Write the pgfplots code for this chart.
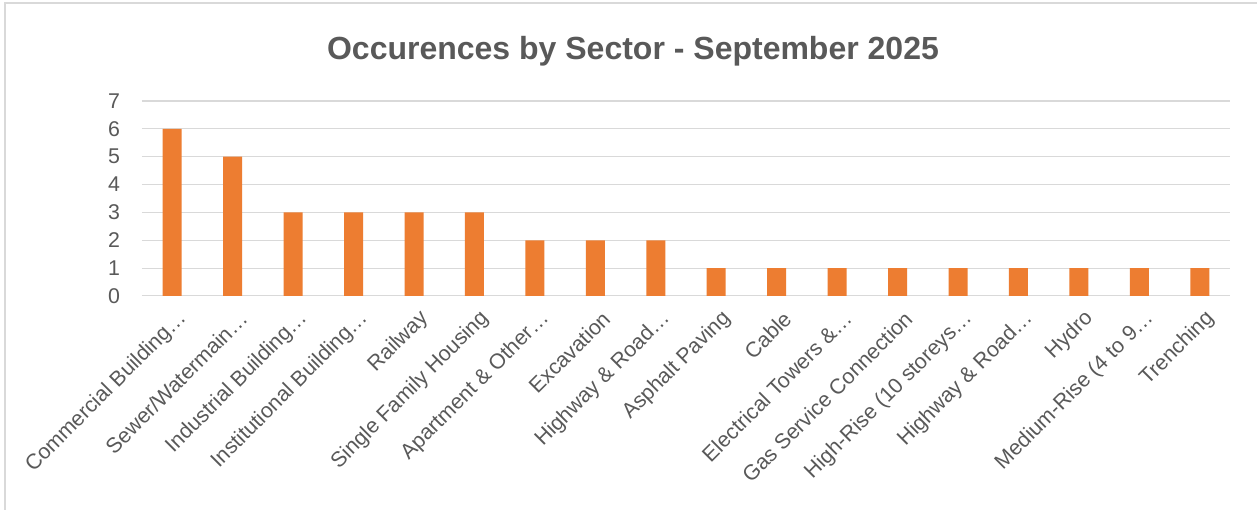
\documentclass[border=0pt]{standalone}
\usepackage{fontspec}
\setmainfont{Liberation Sans}
\usepackage{pgfplots}
\pgfplotsset{compat=1.18}
\definecolor{barorange}{HTML}{ED7D31}
\definecolor{gridgray}{HTML}{D9D9D9}
\definecolor{textgray}{HTML}{595959}
\begin{document}
\begin{tikzpicture}[x=1pt,y=1pt]
\useasboundingbox (0,0) rectangle (942.75,382.5);
\fill[white] (0,0) rectangle (942.75,382.5);
\draw[gridgray, line width=1pt] (3.75,-5) rectangle (950,380.25);
\node[anchor=base, font=\fontsize{24}{28}\selectfont\bfseries, text=textgray] at (474.75,337.5) {Occurences by Sector - September 2025};
\begin{axis}[
  at={(106.5pt,160.5pt)}, anchor=south west,
  scale only axis, width=816pt, height=146.25pt,
  ybar, bar width=14.25pt,
  xmin=-0.5, xmax=17.5, ymin=0, ymax=7,
  ytick={0,1,2,3,4,5,6,7},
  xtick=data,
  xticklabels={{Commercial Building…},{Sewer/Watermain…},{Industrial Building…},{Institutional Building…},{Railway},{Single Family Housing},{Apartment \& Other…},{Excavation},{Highway \& Road…},{Asphalt Paving},{Cable},{Electrical Towers \&…},{Gas Service Connection},{High-Rise (10 storeys…},{Highway \& Road…},{Hydro},{Medium-Rise (4 to 9…},{Trenching}},
  axis line style={draw=none},
  major tick length=0pt,
  ymajorgrids,
  grid style={gridgray, line width=0.75pt},
  tick label style={font=\fontsize{16}{19}\selectfont, text=textgray},
  /pgf/number format/assume math mode=true,
  yticklabel style={anchor=east, xshift=-13pt},
  xticklabel style={rotate=45, anchor=east, xshift=-1pt, yshift=-16pt},
]
\addplot[fill=barorange, draw=none] coordinates {
(0,6) (1,5) (2,3) (3,3) (4,3) (5,3) (6,2) (7,2) (8,2) (9,1) (10,1) (11,1) (12,1) (13,1) (14,1) (15,1) (16,1) (17,1)
};
\end{axis}
\end{tikzpicture}
\end{document}
